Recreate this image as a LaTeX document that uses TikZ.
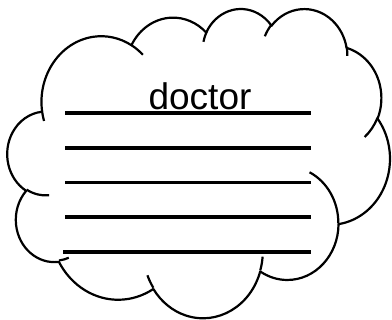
\documentclass[tikz,border=0pt]{standalone}
\usepackage{fontspec}
\setmainfont{Liberation Sans}
% visual (DrawingML) angles -> parametric angles for TikZ arcs
\newcommand\cldcalc[5]{%
  \pgfmathsetmacro\cldtmpa{atan2((#2)*sin(#4),(#3)*cos(#4))}%
  \pgfmathsetmacro\cldtmpb{atan2((#2)*sin((#4)+(#5)),(#3)*cos((#4)+(#5)))}%
  \pgfmathsetmacro\cldtmpc{mod(\cldtmpb-\cldtmpa+720,360)}%
  \expandafter\xdef\csname cld#1s\endcsname{\cldtmpa}%
  \expandafter\xdef\csname cld#1d\endcsname{\cldtmpc}%
  \expandafter\xdef\csname cld#1x\endcsname{#2}%
  \expandafter\xdef\csname cld#1y\endcsname{#3}%
}
\tikzset{
  cldarc/.style={start angle=\csname cld#1s\endcsname,
    delta angle=\csname cld#1d\endcsname,
    x radius=\csname cld#1x\endcsname,
    y radius=\csname cld#1y\endcsname},
  cloudline/.style={draw=black, line width=2.2pt, line join=round},
  ruleline/.style={draw=black, line width=3.6pt},
  label/.style={font=\fontsize{37}{44}\selectfont, inner sep=0pt, anchor=base}
}
\begin{document}
\begin{tikzpicture}[x=1pt, y=-1pt]
\cldcalc{A}{6753}{9190}{-190.4875}{123.7805}
\cldcalc{B}{5333}{7267}{-144.1024}{89.9452}
\cldcalc{C}{4365}{5945}{-145.8079}{99.7230}
\cldcalc{D}{4857}{6595}{-130.9861}{117.2417}
\cldcalc{E}{5333}{7273}{-78.7089}{109.0269}
\cldcalc{F}{6775}{9220}{-46.2673}{130.2690}
\cldcalc{G}{5785}{7867}{0.6250}{114.0333}
\cldcalc{H}{6752}{9215}{22.4516}{115.1726}
\cldcalc{I}{7720}{10543}{66.2426}{75.7110}
\cldcalc{J}{4360}{5918}{-274.9421}{146.7356}
\cldcalc{K}{4345}{5945}{-246.8285}{152.5189}
\cldcalc{TA}{4345}{5945}{86.7420}{26.4295}
\cldcalc{TB}{4360}{5918}{73.6105}{11.4475}
\cldcalc{TC}{6752}{9215}{137.6242}{14.0811}
\cldcalc{TD}{6752}{9215}{6.4533}{15.9984}
\cldcalc{TE}{5785}{7867}{-70.2924}{70.9174}
\cldcalc{TF}{5333}{7273}{30.3180}{27.7515}
\cldcalc{TG}{4857}{6595}{-13.7443}{14.8589}
\cldcalc{TH}{4857}{6595}{-149.1815}{18.1954}
\cldcalc{TI}{4365}{5945}{-163.4943}{17.6864}
\cldcalc{TJ}{6753}{9190}{-66.7070}{12.3194}
\cldcalc{TK}{6753}{9190}{157.6544}{11.8582}
\useasboundingbox (0,0) rectangle (392,320);
\fill[white] (0,0) rectangle (392,320);
\begin{scope}[shift={(7.5,8)}, x=0.0088495pt, y=-0.0071528pt]
  \draw[cloudline, fill=white] (3900,14370)
    arc[cldarc=A] arc[cldarc=B] arc[cldarc=C] arc[cldarc=D]
    arc[cldarc=E] arc[cldarc=F] arc[cldarc=G] arc[cldarc=H]
    arc[cldarc=I] arc[cldarc=J] arc[cldarc=K] -- cycle;
  \draw[cloudline]
    (4693,26177) arc[cldarc=TA]
    (6928,34899) arc[cldarc=TB]
    (16478,39090) arc[cldarc=TC]
    (28827,34751) arc[cldarc=TD]
    (34129,22954) arc[cldarc=TE]
    (41798,15354) arc[cldarc=TF]
    (38324,5426) arc[cldarc=TG]
    (29078,3952) arc[cldarc=TH]
    (22141,4720) arc[cldarc=TI]
    (14000,5192) arc[cldarc=TJ]
    (4127,15789) arc[cldarc=TK];
\end{scope}
\node[label] (title) at (200,110) {doctor};
\coordinate (l1a) at (65,113);   \coordinate (l1b) at (311,113);
\coordinate (l2a) at (65,147.8); \coordinate (l2b) at (311,147.8);
\coordinate (l3a) at (65,182.5); \coordinate (l3b) at (311,182.5);
\coordinate (l4a) at (65,217.2); \coordinate (l4b) at (311,217.2);
\coordinate (l5a) at (63,252);   \coordinate (l5b) at (311,252);
\draw[ruleline] (l1a) -- (l1b);
\draw[ruleline] (l2a) -- (l2b);
\draw[ruleline] (l3a) -- (l3b);
\draw[ruleline] (l4a) -- (l4b);
\draw[ruleline] (l5a) -- (l5b);
\end{tikzpicture}
\end{document}
